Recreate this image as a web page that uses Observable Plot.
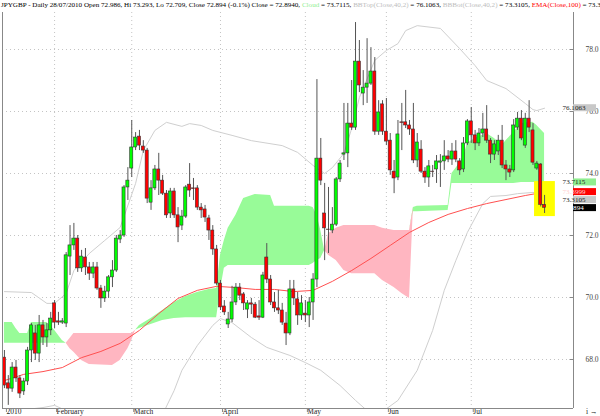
<!DOCTYPE html>
<html><head><meta charset="utf-8">
<script src="https://cdn.jsdelivr.net/npm/d3@7"></script>
<script src="https://cdn.jsdelivr.net/npm/@observablehq/plot@0.6"></script>
<style>
html,body{margin:0;padding:0;background:#fff;width:600px;height:416px;overflow:hidden}
#title{height:12px;line-height:10px;font-family:"Liberation Serif",serif;font-size:7.1px;white-space:nowrap;overflow:hidden;padding-left:1px;color:#000}
#chart svg{display:block;overflow:visible}
</style></head><body>
<div id="title"></div>
<div id="chart"></div>
<script>
// ---- tick labels ----
const tickIdx = [0, 13, 33, 56, 78, 99, 121];
const tickLabels = ["2010", "February", "March", "April", "May", "Jun", "Jul"];
const yTicks = [68, 70, 72, 74, 76, 78];

// ---- daily candles (trading-day index 0..140) ----
const open = [
68.06,67.23,67.06,67.74,67.39,66.97,67.29,68.29,68.84,68.19,
69.10,68.71,68.94,69.81,69.23,69.19,69.16,71.32,71.68,71.90,
70.94,71.29,70.97,70.77,70.97,70.29,69.97,70.19,70.65,70.87,
71.87,72.00,73.55,74.16,74.84,75.19,74.87,74.74,73.06,73.52,
74.13,73.77,73.35,72.71,73.42,72.65,72.32,72.61,73.64,73.52,
73.52,72.90,72.84,72.55,72.16,71.55,70.45,69.71,69.13,69.29,
69.84,70.32,70.10,69.61,69.81,69.77,69.39,69.35,71.29,70.58,
69.84,69.65,69.58,69.16,68.84,70.26,69.94,69.42,69.48,69.42,
69.84,70.58,74.48,72.71,72.19,72.16,72.35,73.81,74.61,74.65,
75.61,75.48,77.61,76.58,76.77,76.90,77.29,75.35,76.23,75.35,
75.06,74.06,73.87,75.65,75.65,75.55,75.42,74.42,74.77,74.06,
73.87,74.06,74.13,74.35,74.39,74.55,74.45,74.71,74.39,74.13,
74.97,75.68,75.23,74.97,75.29,75.42,75.06,74.61,74.71,75.06,
74.26,74.13,74.10,75.48,75.77,74.90,75.77,75.39,74.16,74.29,
72.986];
const high = [
68.29,67.48,67.90,67.97,67.48,67.39,68.39,69.16,69.10,69.42,
69.26,69.16,69.52,69.90,69.52,69.32,71.45,72.32,72.39,72.00,
71.52,71.58,71.13,71.13,71.13,70.39,70.36,70.71,71.19,72.00,
72.16,73.61,74.19,75.71,75.32,75.39,75.06,74.81,73.77,74.26,
74.65,73.94,73.45,73.52,73.52,72.90,72.81,73.61,74.32,73.84,
73.61,73.03,72.97,72.65,72.32,71.68,70.55,69.90,69.52,70.36,
70.45,70.45,70.16,69.90,69.97,69.84,69.90,70.81,71.74,70.71,
70.16,70.23,69.81,69.52,70.55,70.55,70.16,70.06,69.90,70.00,
70.77,77.03,75.13,73.68,73.55,72.90,73.87,74.42,76.26,76.26,
77.00,78.87,78.29,77.32,78.35,78.06,77.74,76.35,76.35,76.42,
75.29,74.42,75.71,76.26,76.68,75.71,76.26,75.29,75.06,74.19,
74.42,74.26,74.58,74.61,75.06,74.74,74.97,75.06,74.48,75.16,
75.74,76.13,75.39,75.45,75.94,76.19,75.13,75.06,75.23,75.55,
74.42,74.26,75.74,75.97,76.03,75.94,76.35,75.61,74.39,74.32,
73.293];
const low = [
67.06,66.52,66.94,67.26,66.74,66.84,67.16,67.90,67.97,67.90,
68.45,68.39,68.77,69.00,69.10,69.13,69.03,70.71,71.52,70.81,
70.81,70.71,70.55,70.61,70.23,69.65,69.84,69.97,70.32,70.81,
71.74,71.94,73.13,73.87,74.74,74.74,74.65,73.03,72.81,73.45,
73.29,73.29,72.55,72.55,72.55,71.77,72.16,72.55,73.23,73.13,
72.81,72.55,72.42,71.84,71.36,70.39,69.58,69.42,69.00,69.19,
69.74,69.90,69.58,69.32,69.45,69.32,69.26,69.32,70.45,69.74,
69.52,69.45,69.10,68.45,68.77,69.74,69.10,69.26,69.19,69.03,
69.26,70.32,73.61,71.19,71.42,72.06,72.29,73.71,74.42,74.19,
75.39,75.39,76.61,76.19,76.26,76.84,75.23,75.23,75.23,74.90,
73.94,73.35,73.77,74.74,75.45,75.23,74.32,74.19,74.00,73.68,
73.55,73.87,73.68,73.55,74.10,74.35,74.26,74.35,73.94,74.03,
74.90,74.97,74.74,74.87,75.16,74.97,74.32,74.42,74.58,74.16,
73.77,73.87,74.03,75.39,75.06,74.81,75.32,74.26,74.10,72.92,
72.709];
const close = [
67.16,67.06,67.74,67.39,66.90,67.29,68.29,69.10,68.19,69.10,
68.71,68.94,69.32,69.19,69.19,69.23,71.36,71.68,71.90,70.94,
71.32,70.97,70.77,70.97,70.29,69.97,70.19,70.65,70.87,71.90,
72.00,73.55,73.77,74.84,75.16,74.90,74.74,73.19,73.52,74.13,
73.77,73.35,72.65,73.42,72.65,72.26,72.61,73.55,73.45,73.50,
72.90,72.81,72.58,72.16,71.55,70.45,69.68,69.52,69.29,69.84,
70.32,70.06,69.81,69.81,69.77,69.35,69.35,70.71,70.58,69.84,
69.65,69.58,69.19,68.84,70.26,69.97,69.42,69.81,69.42,69.84,
70.58,74.48,73.77,72.23,72.18,72.35,73.81,74.32,74.65,75.61,
75.48,77.61,76.84,76.77,76.90,77.29,75.35,75.97,75.35,75.03,
74.10,73.84,75.26,75.63,75.55,75.42,74.42,75.00,74.06,73.87,
74.23,74.05,74.39,74.39,74.55,74.45,74.71,74.45,74.10,74.97,
75.68,75.23,74.97,75.29,75.42,75.06,74.61,74.94,75.06,74.26,
74.13,74.03,75.55,75.77,75.13,75.77,75.48,74.35,74.32,72.99,
72.894];

// ---- Ichimoku cloud (span A / span B, read at these indices) ----
const cloudIdx = [0,2,3,4,6,7,11,13,15,16,17,18,20,22,28,30,32,33,34,35,38,41,44,47,50,53,55,56,57,58,60,62,65,69,70,79,80,81,82,83,84,86,88,90,96,98,101,103,105,106,107,115,116,117,119,120,122,125,127,129,130,132,134,137,138,140];
const spanA = [69.19,69.19,69.00,68.84,68.84,69.19,69.19,68.94,68.61,68.52,68.35,68.23,67.97,67.84,67.81,67.97,68.35,68.61,68.94,69.10,69.32,69.58,69.84,70.03,70.16,70.26,70.29,71.36,71.84,72.23,72.65,73.19,73.32,73.29,72.94,72.94,72.90,72.65,72.16,71.52,71.36,71.19,70.87,70.77,70.77,70.55,70.32,70.13,69.97,72.90,72.94,72.97,74.00,74.16,74.52,74.97,75.13,75.29,75.13,74.90,75.06,75.32,75.61,75.65,75.55,75.29];
const spanB = [68.52,68.52,68.52,68.52,68.52,68.52,68.52,68.52,68.52,68.52,68.68,68.84,68.84,68.84,68.84,68.84,68.84,68.84,68.94,69.00,69.13,69.26,69.32,69.35,69.35,69.35,69.35,70.23,70.94,71.03,71.03,71.03,71.03,71.03,71.03,71.03,71.10,71.19,71.26,71.52,72.06,72.23,72.32,72.32,72.32,72.23,72.16,72.16,72.16,72.77,72.77,72.81,73.68,73.68,73.68,73.68,73.68,73.68,73.68,73.68,73.68,73.68,73.71,73.7115,73.7115,73.7115];

// ---- Bollinger bands (40,2) ----
const bbUpIdx = [0,7,11,13,16,18,22,26,30,34,36,39,42,46,48,51,54,59,64,72,76,80,83,85,88,90,92,96,99,102,104,107,113,118,122,125,130,135,137,138,140];
const bbUp = [70.19,70.16,69.81,69.81,70.13,70.87,71.42,71.84,72.26,73.68,74.74,75.39,75.65,75.52,75.61,75.55,75.39,75.23,75.06,74.90,74.68,74.26,74.00,74.19,74.65,75.45,76.45,77.65,77.97,78.19,78.61,78.77,78.68,78.03,77.48,77.00,76.74,76.26,76.06,76.03,76.1063];
const bbLoIdx = [0,3,10,13,16,19,25,33,38,41,44,46,50,54,56,59,64,68,74,78,82,87,91,94,98,102,107,111,114,117,120,124,126,130,133,137,140];
const bbLo = [66.29,66.35,66.45,66.52,66.35,65.87,65.23,65.06,65.55,66.23,67.00,67.65,68.45,69.10,69.32,69.19,68.71,68.39,68.13,67.90,67.65,67.16,66.68,66.35,66.32,66.68,67.65,68.94,70.23,71.19,72.10,73.03,73.26,73.29,73.35,73.39,73.3105];

// ---- EMA(Close,100) ----
const emaIdx = [0,5,10,15,20,25,30,35,40,45,50,55,60,65,70,75,80,85,90,95,100,105,110,115,120,125,130,135,140];
const emaVal = [67.32,67.52,67.61,67.74,68.06,68.26,68.52,68.94,69.48,69.97,70.23,70.36,70.32,70.26,70.26,70.19,70.23,70.52,70.87,71.26,71.68,72.10,72.42,72.68,72.87,73.03,73.16,73.29,73.3999];

// ---- highlight box and last values ----
const highlightX = [137.4, 142.8];
const highlightY = [72.61, 73.74];
const lastLabels = [
  {v: 76.1063, t: "76.1063", bg: "#c8c8c8", fg: "#222"},
  {v: 73.7115, t: "73.7115", bg: "#90ee90", fg: "#222"},
  {v: 73.3999, t: "73.3999", bg: "#ff0000", fg: "#ffd0d0"},
  {v: 73.3105, t: "73.3105", bg: "#c8c8c8", fg: "#222"},
  {v: 72.894,  t: "72.894",  bg: "#000000", fg: "#fff"}
];
const titleParts = [
  ["JPYGBP - Daily 28/07/2010 Open 72.986, Hi 73.293, Lo 72.709, Close 72.894 (-0.1%) Close = 72.8940, ", "#000"],
  ["Cloud", "#90ee90"], [" = 73.7115, ", "#000"],
  ["BBTop(Close,40,2)", "#bdbdbd"], [" = 76.1063, ", "#000"],
  ["BBBot(Close,40,2)", "#bdbdbd"], [" = 73.3105, ", "#000"],
  ["EMA(Close,100)", "#ff0000"], [" = 73.3999", "#000"]
];

// title
const tdiv = document.getElementById("title");
for (const [t, c] of titleParts) {
  const s = document.createElement("span"); s.textContent = t; s.style.color = c; tdiv.appendChild(s);
}

const candles = open.map((o, i) => ({i, o, h: high[i], l: low[i], c: close[i]}));
const cloud = cloudIdx.map((i, k) => ({i, a: spanA[k], b: spanB[k]}));
const upper = bbUpIdx.map((i, k) => ({i, v: bbUp[k]}));
const lower = bbLoIdx.map((i, k) => ({i, v: bbLo[k]}));
const ema = emaIdx.map((i, k) => ({i, v: emaVal[k]}));

const xDomain = [-0.5, 147.5];
const yDomain = [66.419, 79.194];
const font = "Liberation Serif";

const plot = Plot.plot({
  width: 600, height: 404,
  marginTop: 0, marginBottom: 8, marginLeft: 2, marginRight: 27,
  x: {domain: xDomain, axis: null},
  y: {domain: yDomain, axis: null},
  style: {fontFamily: font, fontSize: "7.5px", background: "#fff", color: "#333"},
  marks: [
    Plot.ruleY(yTicks, {x1: xDomain[0], x2: xDomain[1], stroke: "#c4c4c4", strokeDasharray: "1,3"}),
    Plot.ruleX(tickIdx.slice(1), {stroke: "#c4c4c4", strokeDasharray: "1,3"}),
    Plot.areaY(cloud, {x: "i", y1: "b", y2: d => Math.max(d.a, d.b), fill: "#98fb98"}),
    Plot.areaY(cloud, {x: "i", y1: "a", y2: d => Math.max(d.a, d.b), fill: "#ffb6c1"}),
    Plot.line(upper, {x: "i", y: "v", stroke: "#cfcfcf", strokeWidth: 1, clip: true}),
    Plot.line(lower, {x: "i", y: "v", stroke: "#cfcfcf", strokeWidth: 1, clip: true}),
    Plot.line(ema, {x: "i", y: "v", stroke: "#ff5050", strokeWidth: 1}),
    Plot.rect([0], {x1: highlightX[0], x2: highlightX[1], y1: highlightY[0], y2: highlightY[1], fill: "#ffff00"}),
    Plot.ruleX(candles, {x: "i", y1: "l", y2: "h", stroke: "#555", strokeWidth: 1}),
    Plot.rect(candles, {x1: d => d.i - 0.4, x2: d => d.i + 0.4, y1: "o", y2: "c",
      fill: d => d.c >= d.o ? "#00ff00" : "#ff0000", stroke: "#333", strokeWidth: 0.6}),
    Plot.ruleY(yTicks, {x1: xDomain[1] - 0.9, x2: xDomain[1], stroke: "#888"}),
    Plot.axisY({anchor: "right", ticks: yTicks, tickFormat: d => d.toFixed(1), tickSize: 0, tickPadding: 25,
      textAnchor: "end", fontSize: 7.5, fill: "#444"}),
    Plot.axisX({ticks: tickIdx, tickFormat: d => tickLabels[tickIdx.indexOf(d)], tickSize: 4, tickPadding: -3.5,
      textAnchor: "start", dx: 2, fontSize: 7.5, fill: "#222", stroke: "#888"}),
    Plot.ruleX([xDomain[0], xDomain[1]], {stroke: "#888"}),
    Plot.ruleY([yDomain[0]], {x1: xDomain[0], x2: xDomain[1], stroke: "#888"})
  ]
});
document.getElementById("chart").appendChild(plot);

// last-value labels on the right axis, stacked so they do not overlap
const ys = plot.scale("y"), xs = plot.scale("x");
const x0 = xs.apply(xDomain[1]);
const g = d3.select(plot).append("g").attr("font-family", font).attr("font-size", 7.1);
let prev = -Infinity;
for (const L of lastLabels.slice().sort((a, b) => b.v - a.v)) {
  const cy = Math.max(ys.apply(L.v), prev + 8);
  prev = cy;
  g.append("rect").attr("x", x0).attr("y", cy - 3.5).attr("width", 23).attr("height", 7).attr("fill", L.bg);
  g.append("text").attr("x", x0 + 1).attr("y", cy + 2.5).attr("fill", L.fg).text(L.t);
}
</script>
</body></html>
